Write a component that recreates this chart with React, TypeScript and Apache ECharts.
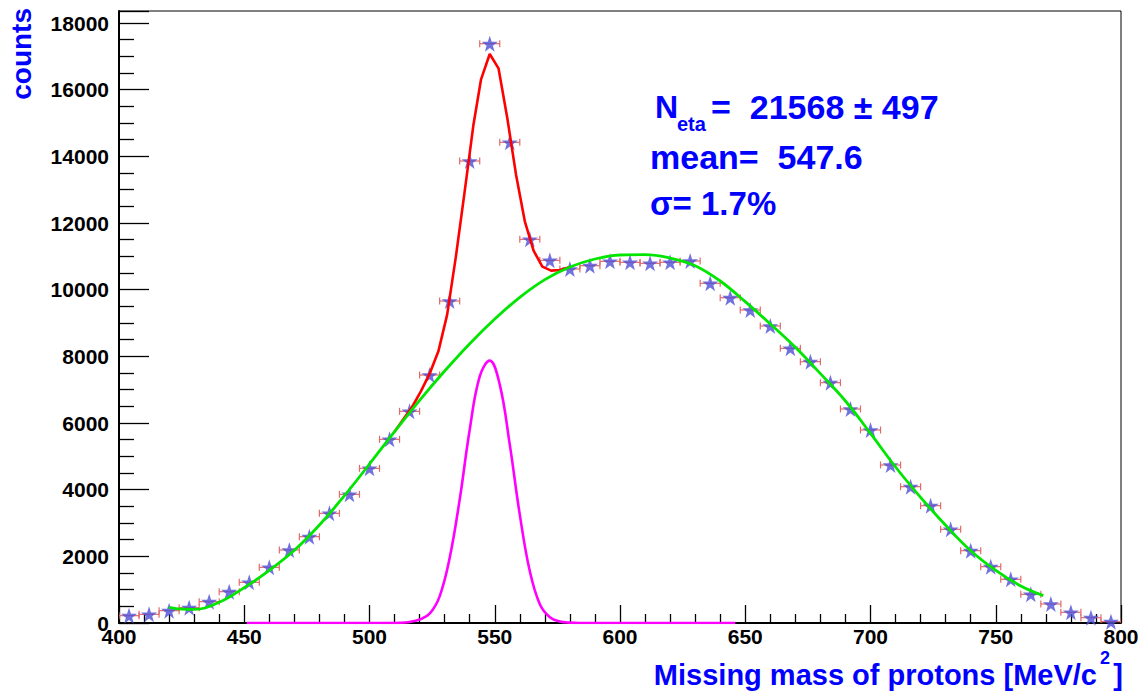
import React, { useEffect, useRef } from "react";
import * as echarts from "echarts";

// Histogram of the proton missing mass, 8 MeV bins
const BIN_WIDTH = 8;
const binCenters = [
  404, 412, 420, 428, 436, 444, 452, 460, 468, 476, 484, 492, 500, 508, 516, 524, 532,
  540, 548, 556, 564, 572, 580, 588, 596, 604, 612, 620, 628, 636, 644, 652, 660, 668,
  676, 684, 692, 700, 708, 716, 724, 732, 740, 748, 756, 764, 772, 780, 788, 796,
];
const binCounts = [
  220, 260, 370, 460, 640, 940, 1220, 1670, 2190, 2590, 3290, 3860, 4640, 5510, 6350, 7440, 9660,
  13860, 17380, 14420, 11510, 10880, 10620, 10720, 10850, 10820, 10790, 10820, 10860, 10190, 9760, 9390, 8910, 8240,
  7840, 7210, 6420, 5790, 4740, 4090, 3520, 2810, 2170, 1690, 1310, 860, 570, 320, 160, 40,
];

// Background polynomial (green)
const bgMass = [
  420, 425, 430, 440, 450, 460, 470, 480, 490, 500, 510, 520, 530, 540, 550, 560, 570, 580, 590,
  600, 610, 620, 630, 640, 650, 660, 670, 680, 690, 700, 710, 720, 730, 740, 750, 760, 769,
];
const bgCounts = [
  470, 415, 410, 620, 1060, 1580, 2180, 2940, 3820, 4770, 5740, 6680, 7560, 8380, 9120, 9770, 10300, 10680, 10920,
  11040, 11050, 10950, 10720, 10260, 9640, 8970, 8270, 7480, 6660, 5690, 4680, 3770, 2930, 2170, 1580, 1110, 820,
];

// Total fit, signal + background (red), where it rises above the background
const totalMass = [
  510, 513.5, 517, 520.5, 524, 527.5, 531, 534.5, 538, 541.5, 544.5, 548, 551.5, 555, 558.5,
  562, 565.5, 569, 572.5, 576, 580,
];
const totalCounts = [
  5740, 6110, 6480, 6950, 7480, 8150, 9250, 11000, 12950, 14950, 16300, 17070, 16640, 15150, 13450,
  12050, 11170, 10690, 10570, 10590, 10680,
];

// Eta signal Gaussian (magenta)
const etaMass = [
  451, 508, 512, 516, 520, 524, 528, 532, 536, 540, 544, 548, 552, 556, 560, 564, 568, 572, 576, 580, 584, 646,
];
const etaCounts = [
  0, 0, 5, 30, 105, 280, 800, 1950, 3700, 5800, 7400, 7870, 7150, 5350, 3250, 1550, 560, 170, 45, 10, 0, 0,
];

const FONT = "'Liberation Sans', Arial, Helvetica, sans-serif";
const TITLE_BLUE = "#0000ff";
const STAR = "path://M50,0 L61.8,35.1 L98.1,35.1 L68.8,56.7 L79.4,90.5 L50,69.1 L20.6,90.5 L31.2,56.7 L1.9,35.1 L38.2,35.1 Z";

const zip = (xs: number[], ys: number[]) => xs.map((x, i) => [x, ys[i]]);
const plain = (v: number) => String(v);

export default function App() {
  const ref = useRef<HTMLDivElement>(null);

  useEffect(() => {
    if (!ref.current) return;
    const chart = echarts.init(ref.current, undefined, { renderer: "svg" });
    const points = zip(binCenters, binCounts);

    const option: any = {
      animation: false,
      backgroundColor: "#ffffff",
      grid: {
        left: 119,
        right: 27,
        top: 11,
        bottom: 68,
        show: true,
        borderColor: "#000",
        borderWidth: 1,
      },
      xAxis: {
        type: "value",
        min: 400,
        max: 800,
        interval: 50,
        axisLine: { show: true, lineStyle: { color: "#000", width: 2 } },
        axisTick: { show: true, inside: true, length: 18, lineStyle: { color: "#000", width: 1.3 } },
        minorTick: { show: true, splitNumber: 5, length: 9, lineStyle: { color: "#000", width: 1.3 } },
        splitLine: { show: false },
        axisLabel: {
          color: "#000",
          fontFamily: FONT,
          fontWeight: "bold",
          fontSize: 21,
          margin: 3,
          formatter: plain,
        },
      },
      yAxis: {
        type: "value",
        min: 0,
        max: 18360,
        interval: 2000,
        axisLine: { show: true, lineStyle: { color: "#000", width: 2 } },
        axisTick: { show: true, inside: true, length: 30, lineStyle: { color: "#000", width: 1.3 } },
        minorTick: { show: true, splitNumber: 4, length: 15, lineStyle: { color: "#000", width: 1.3 } },
        splitLine: { show: false },
        axisLabel: {
          color: "#000",
          fontFamily: FONT,
          fontWeight: "bold",
          fontSize: 21,
          margin: 10,
          showMaxLabel: false,
          formatter: plain,
        },
      },
      series: [
        {
          name: "bin width",
          type: "custom",
          z: 2,
          data: points,
          clip: true,
          renderItem: (_params: any, api: any) => {
            const x = api.value(0);
            const y = api.value(1);
            const l = api.coord([x - BIN_WIDTH / 2, y]);
            const r = api.coord([x + BIN_WIDTH / 2, y]);
            const cap = 3.5;
            const style = { stroke: "#e06a6a", lineWidth: 1.2 };
            return {
              type: "group",
              children: [
                { type: "line", shape: { x1: l[0], y1: l[1], x2: r[0], y2: r[1] }, style },
                { type: "line", shape: { x1: l[0], y1: l[1] - cap, x2: l[0], y2: l[1] + cap }, style },
                { type: "line", shape: { x1: r[0], y1: r[1] - cap, x2: r[0], y2: r[1] + cap }, style },
              ],
            };
          },
        },
        {
          name: "counts",
          type: "scatter",
          z: 3,
          data: points,
          symbol: STAR,
          symbolSize: 16,
          itemStyle: { color: "#4f4fd6" },
        },
        {
          name: "total",
          type: "line",
          z: 4,
          data: zip(totalMass, totalCounts),
          showSymbol: false,
          smooth: false,
          lineStyle: { color: "#ff0000", width: 2.6 },
        },
        {
          name: "background",
          type: "line",
          z: 5,
          data: zip(bgMass, bgCounts),
          showSymbol: false,
          smooth: 0.4,
          lineStyle: { color: "#00e600", width: 2.8 },
        },
        {
          name: "eta",
          type: "line",
          z: 6,
          data: zip(etaMass, etaCounts),
          showSymbol: false,
          smooth: 0.4,
          lineStyle: { color: "#ff00ff", width: 2.6 },
        },
      ],
      graphic: [
        {
          type: "text",
          x: 21,
          y: 8,
          rotation: Math.PI / 2,
          style: {
            text: "counts",
            font: `bold 28px ${FONT}`,
            fill: TITLE_BLUE,
            align: "right",
            verticalAlign: "middle",
          },
        },
        {
          type: "text",
          x: 1097,
          y: 675,
          style: {
            text: "Missing mass of protons [MeV/c",
            font: `bold 29px ${FONT}`,
            fill: TITLE_BLUE,
            align: "right",
            verticalAlign: "middle",
          },
        },
        {
          type: "text",
          x: 1110,
          y: 658,
          style: { text: "2", font: `bold 18px ${FONT}`, fill: TITLE_BLUE, align: "right", verticalAlign: "middle" },
        },
        {
          type: "text",
          x: 1123,
          y: 675,
          style: { text: "]", font: `bold 29px ${FONT}`, fill: TITLE_BLUE, align: "right", verticalAlign: "middle" },
        },
        {
          type: "text",
          x: 655,
          y: 107,
          style: { text: "N", font: `bold 32px ${FONT}`, fill: TITLE_BLUE, verticalAlign: "middle" },
        },
        {
          type: "text",
          x: 677,
          y: 124,
          style: { text: "eta", font: `bold 20px ${FONT}`, fill: TITLE_BLUE, verticalAlign: "middle" },
        },
        {
          type: "text",
          x: 711,
          y: 107,
          style: { text: "=  21568 \u00b1 497", font: `bold 34px ${FONT}`, fill: TITLE_BLUE, verticalAlign: "middle" },
        },
        {
          type: "text",
          x: 650,
          y: 157,
          style: { text: "mean=  547.6", font: `bold 34px ${FONT}`, fill: TITLE_BLUE, verticalAlign: "middle" },
        },
        {
          type: "text",
          x: 650,
          y: 203,
          style: { text: "\u03c3= 1.7%", font: `bold 33px ${FONT}`, fill: TITLE_BLUE, verticalAlign: "middle" },
        },
      ],
    };

    chart.setOption(option);
    return () => chart.dispose();
  }, []);

  return (
    <div
      ref={ref}
      style={{ position: "absolute", left: 0, top: 0, width: 1148, height: 691, background: "#fff" }}
    />
  );
}
